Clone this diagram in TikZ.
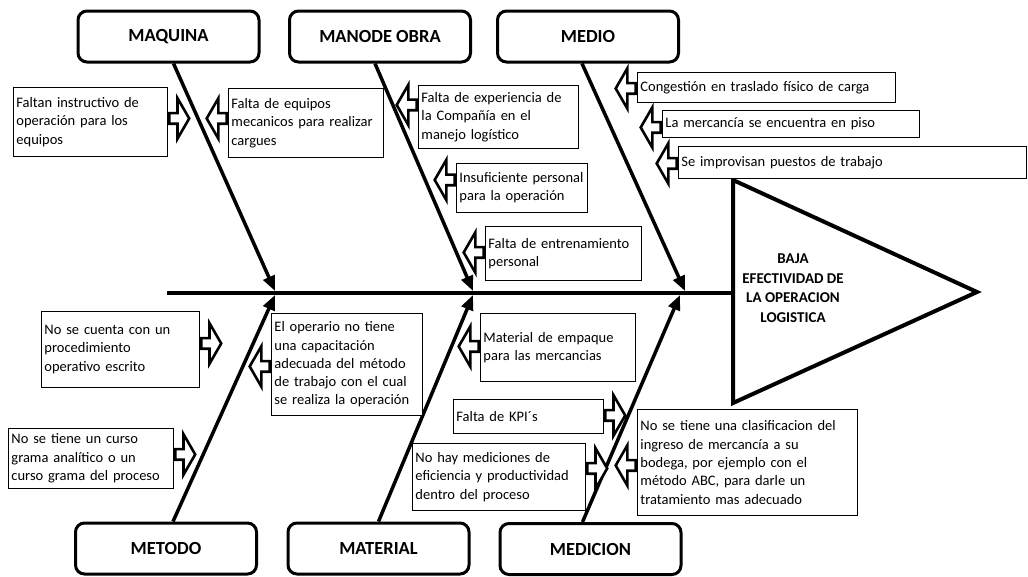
\documentclass[tikz,border=0pt]{standalone}
\usepackage{fontspec}
\setmainfont{Carlito}
\usetikzlibrary{arrows.meta,shapes.arrows}

\begin{document}
\begin{tikzpicture}[x=1pt, y=-1pt,
    catBox/.style={draw, line width=3pt, rounded corners=9pt, minimum width=181pt, minimum height=51pt, font=\fontsize{18.5}{20}\selectfont\bfseries},
    causeBox/.style={draw, line width=0.9pt, fill=white, anchor=north west, align=left, inner sep=3pt, font=\fontsize{14.5}{18.3}\selectfont},
    arrowRight/.style={single arrow, draw, line width=2.6pt, fill=white, inner sep=4pt, single arrow head extend=15pt, single arrow tip angle=120, minimum height=20pt, anchor=tail},
    arrowLeft/.style={arrowRight, shape border rotate=180},
    bone/.style={line width=3.5pt, -{Triangle[length=15pt, width=12pt]}},
    effect/.style={align=center, font=\fontsize{15}{19.5}\selectfont\bfseries}
  ]
  \useasboundingbox (0,0) rectangle (1028,576);

  % Espina y cabeza
  \coordinate (tail) at (167,293);
  \coordinate (head) at (733,293);
  \draw[line width=4pt] (tail) -- (head);
  \draw[line width=4pt, line join=miter] (733,180) -- (977,292) -- (733,403) -- cycle;
  \node[effect] (eff) at (793,288) {BAJA\\EFECTIVIDAD DE\\LA OPERACION\\LOGISTICA};

  % Categorias
  \node[catBox] (maq) at (168.5,36.5) {MAQUINA};
  \node[catBox] (mob) at (380,36.5) {MANODE OBRA};
  \node[catBox] (med) at (588,36.5) {MEDIO};
  \node[catBox] (met) at (166,548.5) {METODO};
  \node[catBox] (mat) at (378.5,548.5) {MATERIAL};
  \node[catBox] (mdc) at (590.5,549) {MEDICION};

  \coordinate (jmaq) at (275,291);
  \coordinate (jmob) at (473,291);
  \coordinate (jmed) at (685,291);
  \coordinate (jmet) at (275,295);
  \coordinate (jmat) at (473,295);
  \coordinate (jmdc) at (680,295);

  \draw[bone] ([xshift=5pt]maq.south) -- (jmaq);
  \draw[bone] ([xshift=-5pt]mob.south) -- (jmob);
  \draw[bone] ([xshift=-6pt]med.south) -- (jmed);
  \draw[bone] ([xshift=7pt]met.north) -- (jmet);
  \draw[bone] (mat.north) -- (jmat);
  \draw[bone] ([xshift=-8pt]mdc.north) -- (jmdc);

  % Maquina
  \node[causeBox, text width=148pt, minimum height=69pt] (c1) at (13,87) {Faltan instructivo de\\operación para los\\equipos};
  \node[causeBox, text width=149pt, minimum height=69pt] (c2) at (228,88) {Falta de equipos\\mecanicos para realizar\\cargues};
  \node[arrowRight] (a1) at ([yshift=3.5pt]c1.east) {};
  \node[arrowLeft] (a2) at ([yshift=4.5pt]c2.west) {};

  % Mano de obra
  \node[causeBox, text width=154pt, minimum height=63pt] (c3) at (418,85) {Falta de experiencia de\\la Compañía en el\\manejo logístico};
  \node[causeBox, text width=125pt, minimum height=49pt] (c4) at (456,163) {Insuficiente personal\\para la operación};
  \node[causeBox, text width=150pt, minimum height=54pt] (c5) at (485,226) {Falta de entrenamiento\\personal};
  \node[arrowLeft] (a3) at ([yshift=12pt]c3.west) {};
  \node[arrowLeft] (a4) at ([yshift=8pt]c4.west) {};
  \node[arrowLeft] (a5) at ([yshift=1pt]c5.west) {};

  % Medio
  \node[causeBox, text width=252pt, minimum height=30pt] (c6) at (637,72) {Congestión en traslado físico de carga};
  \node[causeBox, text width=251pt, minimum height=27pt] (c7) at (662,110) {La mercancía se encuentra en piso};
  \node[causeBox, text width=342pt, minimum height=32pt] (c8) at (678,146) {Se improvisan puestos de trabajo};
  \node[arrowLeft] (a6) at ([yshift=-1pt]c6.west) {};
  \node[arrowLeft] (a7) at ([yshift=-3.5pt]c7.west) {};
  \node[arrowLeft] (a8) at ([yshift=-1pt]c8.west) {};

  % Metodo
  \node[causeBox, text width=152pt, minimum height=76pt] (c9) at (41,311) {No se cuenta con un\\procedimiento\\operativo escrito};
  \node[causeBox, text width=145pt, minimum height=102pt] (c10) at (271,313) {El operario no tiene\\una capacitación\\adecuada del método\\de trabajo con el cual\\se realiza la operación};
  \node[causeBox, text width=159pt, minimum height=60pt] (c11) at (8,428) {No se tiene un curso\\grama analítico o un\\curso grama del proceso};
  \node[arrowRight] (a9) at ([yshift=6pt]c9.east) {};
  \node[arrowLeft] (a10) at ([yshift=-2pt]c10.west) {};
  \node[arrowRight] (a11) at ([yshift=4pt]c11.east) {};

  % Material
  \node[causeBox, text width=149pt, minimum height=68pt] (c12) at (480,313) {Material de empaque\\para las mercancias};
  \node[arrowLeft] (a12) at ([yshift=1pt]c12.west) {};

  % Medicion
  \node[causeBox, text width=144pt, minimum height=34pt] (c13) at (453,399) {Falta de KPI´s};
  \node[causeBox, text width=167pt, minimum height=67pt] (c14) at (412,443) {No hay mediciones de\\eficiencia y productividad\\dentro del proceso};
  \node[causeBox, text width=214pt, minimum height=106pt] (c15) at (637,409) {No se tiene una clasificacion del\\ingreso de mercancía a su\\bodega, por ejemplo con el\\método ABC, para darle un\\tratamiento mas adecuado};
  \node[arrowRight] (a13) at ([yshift=1pt]c13.east) {};
  \node[arrowRight] (a14) at ([yshift=8.5pt]c14.east) {};
  \node[arrowLeft] (a15) at ([yshift=-3pt]c15.west) {};

\end{tikzpicture}
\end{document}
